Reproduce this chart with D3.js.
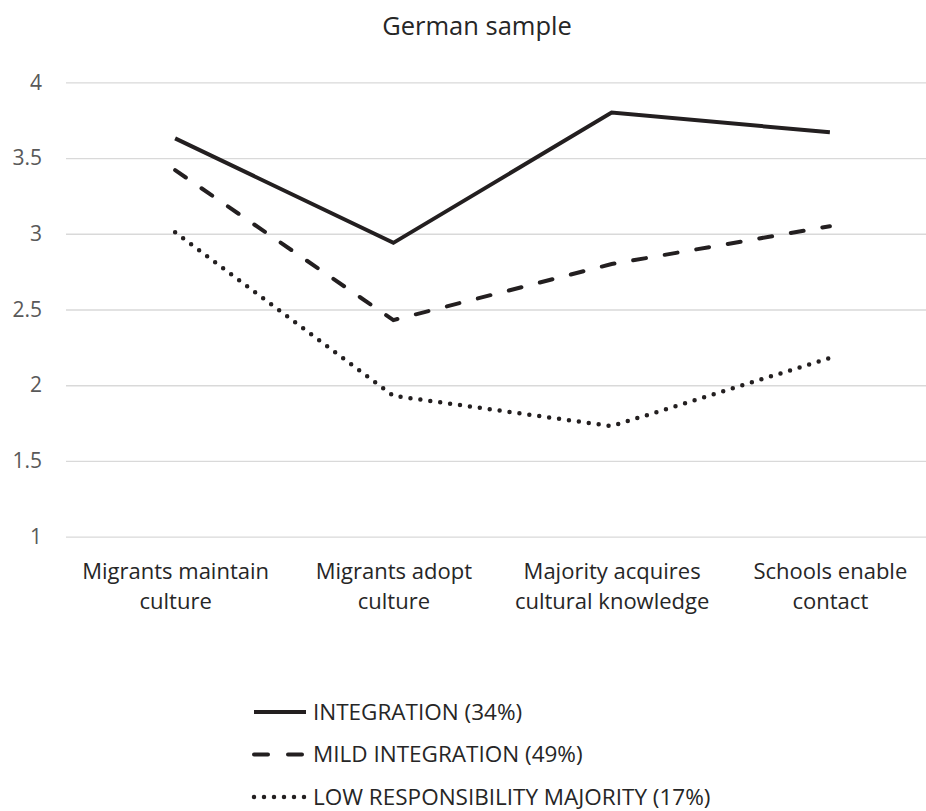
<!DOCTYPE html>
<html>
<head>
<meta charset="utf-8">
<script src="https://cdn.jsdelivr.net/npm/d3@7"></script>
<style>
  body { margin: 0; background: #fff; }
  svg { display: block; font-family: "Open Sans", sans-serif; }
</style>
</head>
<body>
<script>
// chart values
var categories = ["Migrants maintain culture", "Migrants adopt culture", "Majority acquires cultural knowledge", "Schools enable contact"];
var categoryLines = [["Migrants maintain", "culture"], ["Migrants adopt", "culture"], ["Majority acquires", "cultural knowledge"], ["Schools enable", "contact"]];
var integration = [3.63, 2.94, 3.80, 3.67];
var mildIntegration = [3.42, 2.43, 2.80, 3.05];
var lowResponsibility = [3.01, 1.93, 1.73, 2.18];
var seriesNames = ["INTEGRATION (34%)", "MILD INTEGRATION (49%)", "LOW RESPONSIBILITY MAJORITY (17%)"];
var yTicks = [1, 1.5, 2, 2.5, 3, 3.5, 4];

var width = 926, height = 811;

var svg = d3.select("body").append("svg")
    .attr("width", width)
    .attr("height", height);

var x = d3.scalePoint()
    .domain(categories)
    .range([66, 939])
    .padding(0.5);

var y = d3.scaleLinear()
    .domain([1, 4])
    .range([536.7, 82.3]);

svg.append("text")
    .attr("x", 477)
    .attr("y", 35)
    .attr("text-anchor", "middle")
    .attr("fill", "#262626")
    .style("font-size", "25.5px")
    .text("German sample");

// gridlines + y labels
var yAxis = svg.append("g")
    .attr("transform", "translate(66,0)")
    .call(d3.axisLeft(y).tickValues(yTicks).tickSize(-(939 - 66)).tickPadding(24).tickFormat(d3.format("")));
yAxis.select(".domain").remove();
yAxis.selectAll(".tick line").attr("stroke", "#d9d9d9").attr("stroke-width", 1.3);
yAxis.selectAll(".tick text")
    .attr("fill", "#595959")
    .style("font-size", "21px")
    .style("font-family", "Open Sans, sans-serif");

// x labels
var xAxis = svg.append("g")
    .attr("transform", "translate(0,536.7)")
    .call(d3.axisBottom(x).tickSize(0).tickFormat(""));
xAxis.select(".domain").remove();
xAxis.selectAll(".tick").each(function(d, i) {
  var t = d3.select(this).append("text")
      .attr("fill", "#262626")
      .attr("text-anchor", "middle")
      .style("font-size", "22px")
      .style("font-family", "Open Sans, sans-serif");
  categoryLines[i].forEach(function(line, j) {
    t.append("tspan").attr("x", 0).attr("y", 42 + j * 30).text(line);
  });
});

var seriesList = [
  {name: seriesNames[0], values: integration, dash: null},
  {name: seriesNames[1], values: mildIntegration, dash: "13,19"},
  {name: seriesNames[2], values: lowResponsibility, dash: "0,10"}
];

var line = d3.line()
    .x(function(d, i) { return x(categories[i]); })
    .y(function(d) { return y(d); });

seriesList.forEach(function(s) {
  svg.append("path")
      .datum(s.values)
      .attr("fill", "none")
      .attr("stroke", "#231f20")
      .attr("stroke-width", s.dash === "0,10" ? 4.5 : 4)
      .attr("stroke-linecap", s.dash ? "round" : "butt")
      .attr("stroke-linejoin", "miter")
      .attr("stroke-dasharray", s.dash)
      .attr("d", line);
});

// legend
var legend = svg.append("g");
seriesList.forEach(function(s, i) {
  var ly = 712 + i * 42.5;
  legend.append("line")
      .attr("x1", 254).attr("x2", 306)
      .attr("y1", ly).attr("y2", ly)
      .attr("stroke", "#231f20")
      .attr("stroke-width", s.dash === "0,10" ? 4.5 : 4)
      .attr("stroke-linecap", s.dash ? "round" : "butt")
      .attr("stroke-dasharray", s.dash === "13,19" ? "14,20" : s.dash);
  legend.append("text")
      .attr("x", 313)
      .attr("y", ly + 7.5)
      .attr("fill", "#262626")
      .style("font-size", "22.5px")
      .text(s.name);
});
</script>
</body>
</html>
